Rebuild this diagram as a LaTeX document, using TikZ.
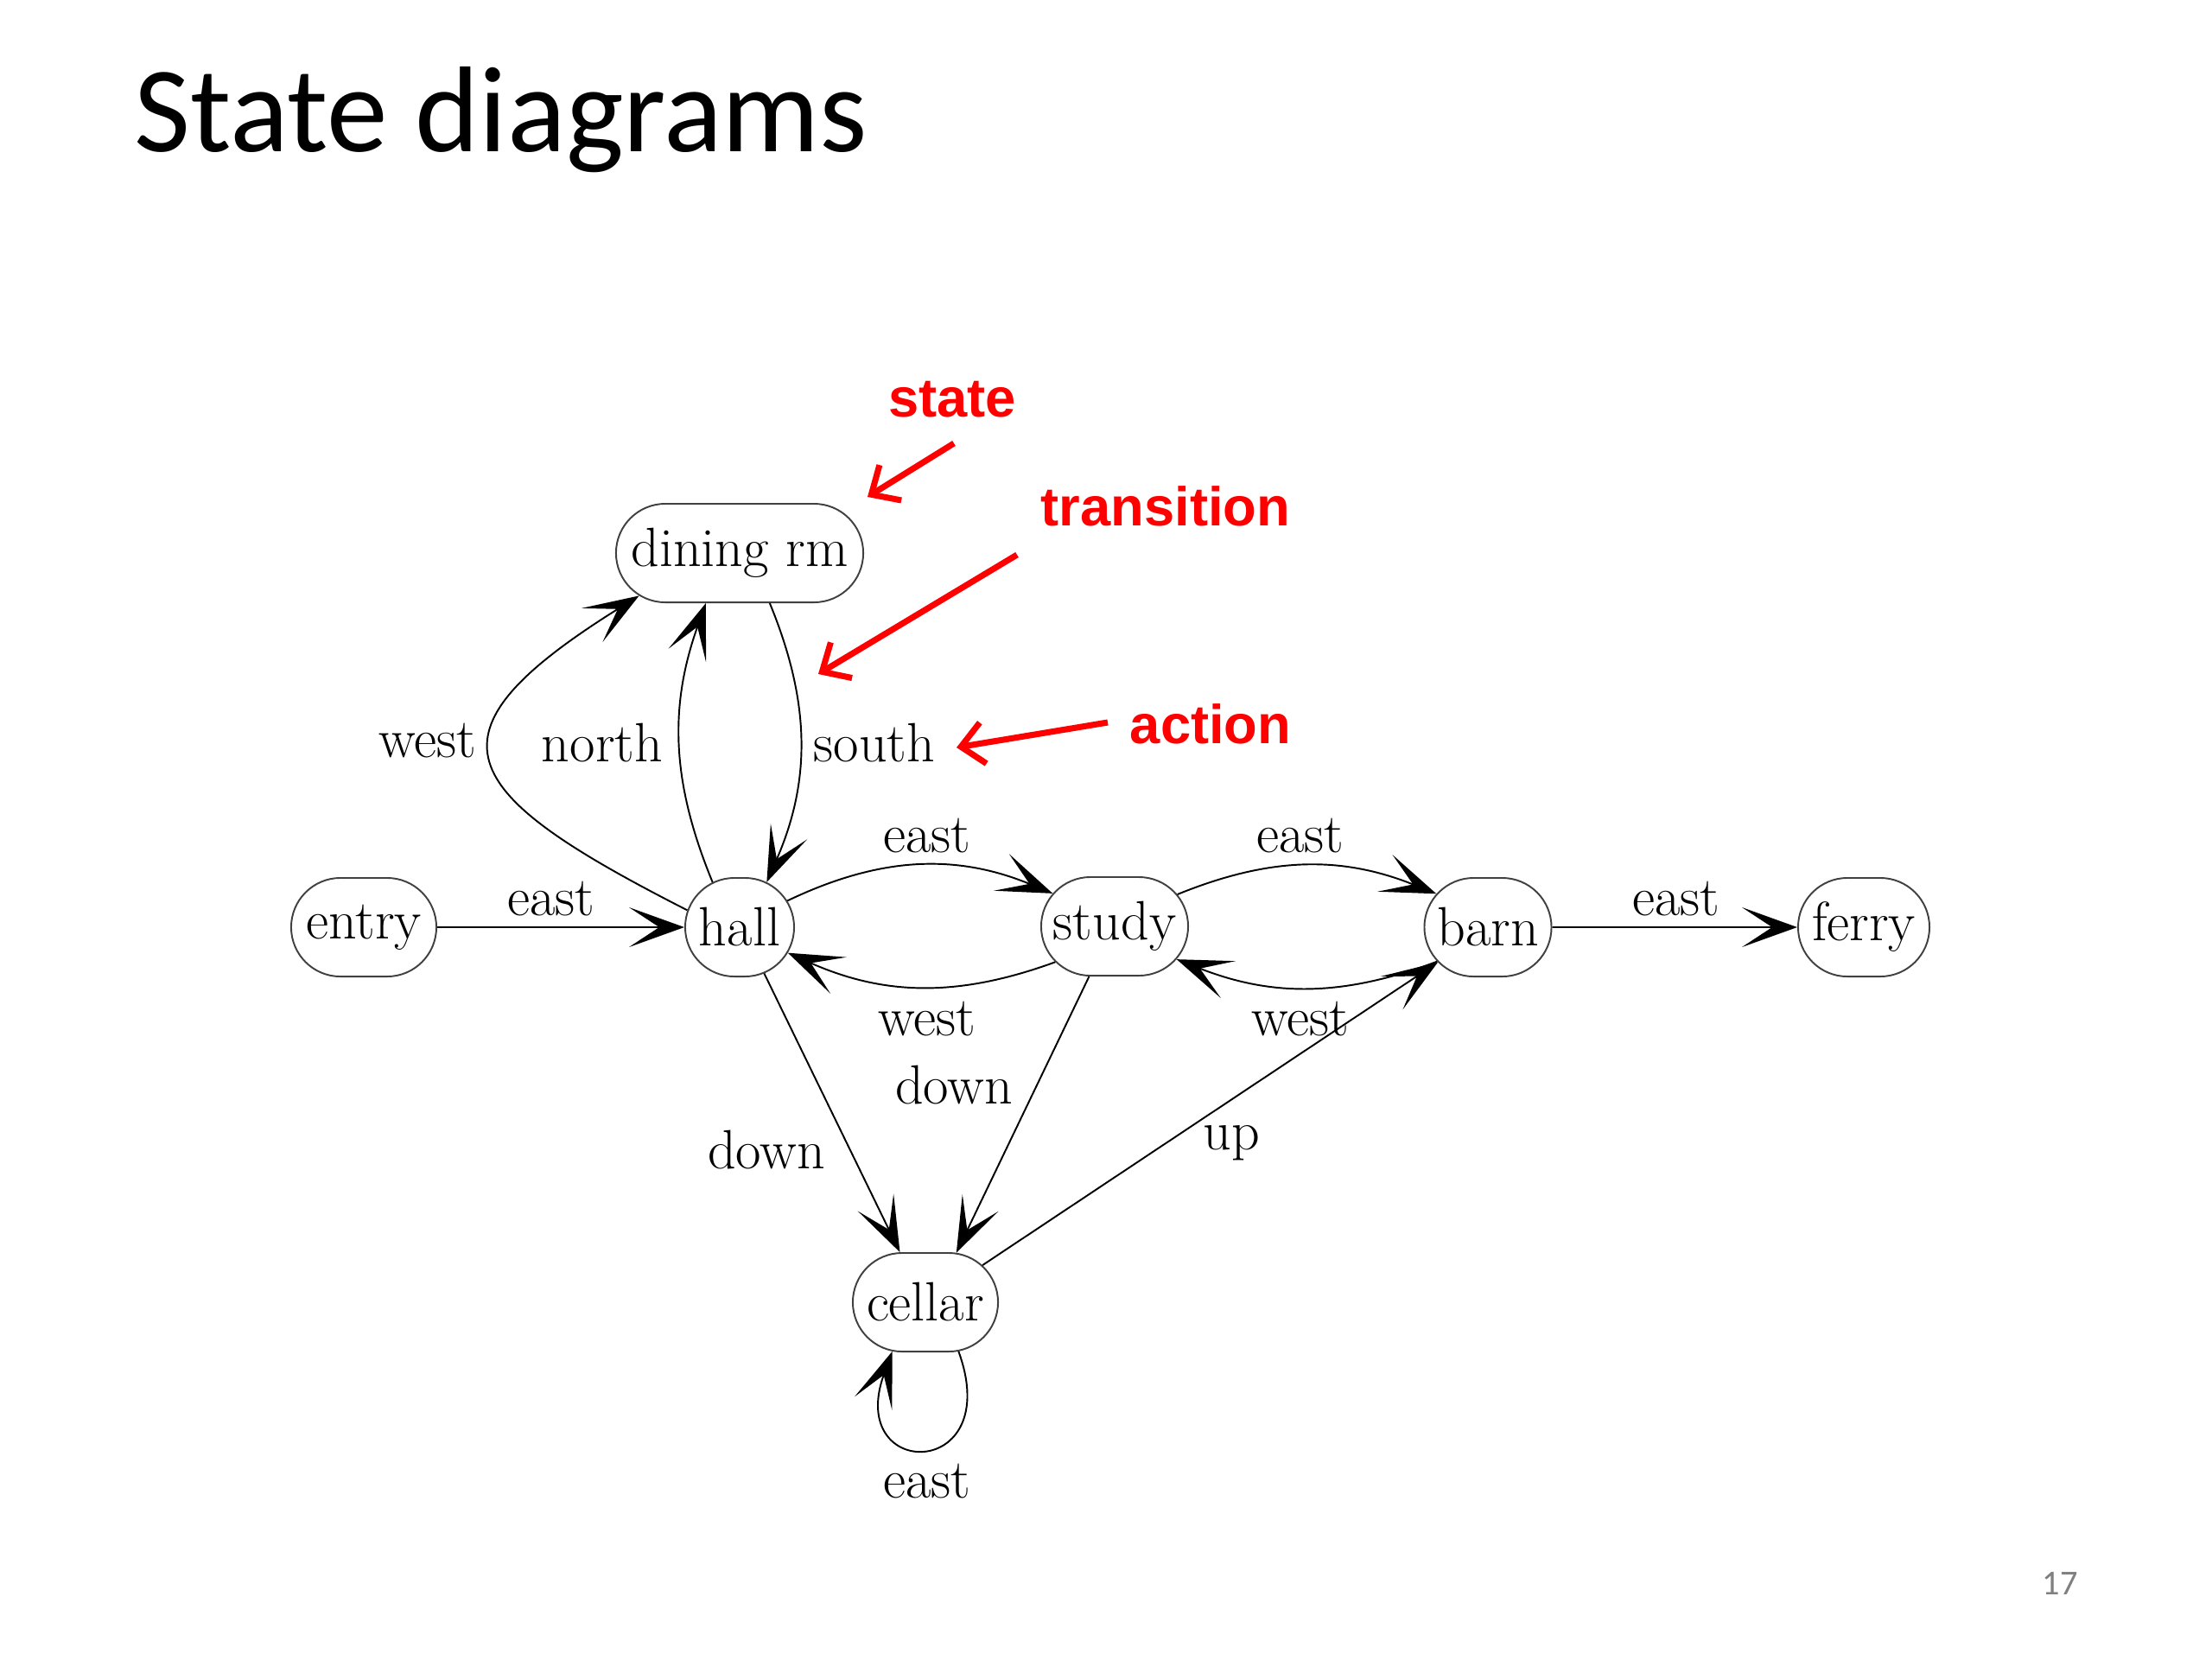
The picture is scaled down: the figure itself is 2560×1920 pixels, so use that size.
\documentclass[tikz,border=0pt]{standalone}
\usepackage{fontspec}
\newfontfamily\titlefont{Carlito}
\newfontfamily\annfont{Liberation Sans}
\usetikzlibrary{arrows.meta,shapes.misc}
\definecolor{annred}{RGB}{255,0,0}
\definecolor{pagegray}{RGB}{128,128,128}
\newcommand{\zw}[1]{\makebox[0pt]{#1}}
\begin{document}
\begin{tikzpicture}[x=0.01cm,y=0.01cm,
  state/.style={rounded rectangle, draw=black!75, line width=0.55pt, minimum height=11.4mm,
    minimum width=#1, inner xsep=0pt, inner ysep=0pt, font=\fontsize{18.2}{22}\selectfont},
  lbl/.style={font=\fontsize{18.2}{22}\selectfont, inner sep=0pt},
  edge/.style={line width=0.55pt, -{Stealth[length=6.4mm,width=4.6mm,inset=3.5mm]}},
  ann/.style={font=\annfont\bfseries\fontsize{18}{22}\selectfont, text=annred, inner sep=0pt},
  annarrow/.style={annred, line width=2pt, -{Straight Barb[length=2.6mm,width=4.8mm]}},
]
\useasboundingbox[fill=white] (0,0) rectangle (2560,-1920);

% title and page number
\node[anchor=base west, inner sep=0pt, font=\titlefont\fontsize{40.2}{44}\selectfont] (title) at (155,-175) {State diagrams};
\node[font=\titlefont\fontsize{11.5}{13}\selectfont, text=pagegray, inner sep=0pt] (pnum) at (2384,-1832) {17};

% states
\node[state=28.6mm] (dining) at (856,-640) {\zw{dining rm}};
\node[state=16.8mm] (entry) at (421,-1073) {\zw{entry}};
\node[state=12.6mm] (hall) at (856,-1073) {\zw{hall}};
\node[state=17mm] (study) at (1290,-1072) {\zw{study}};
\node[state=14.7mm] (barn) at (1722,-1073) {\zw{barn}};
\node[state=15.2mm] (ferry) at (2157,-1073) {\zw{ferry}};
\node[state=16.8mm] (cellar) at (1071,-1507) {\zw{cellar}};

% transitions
\draw[edge] (entry) -- (hall);
\draw[edge] (hall.162) .. controls +(153:304) and +(212:304) .. (dining.203);
\draw[edge] (hall.121) to[bend left=21] (dining.236);
\draw[edge] (dining.301) to[bend left=23] (hall.59);
\draw[edge] (hall.29) to[bend left=24] (study.152);
\draw[edge] (study.211) to[bend left=22] (hall.332);
\draw[edge] (study.27) to[bend left=22] (barn.147);
\draw[edge] (barn.214) to[bend left=21] (study.332);
\draw[edge] (barn) -- (ferry);
\draw[edge] (hall.298) -- (cellar.117);
\draw[edge] (study.243) -- (cellar.58);
\draw[edge] (cellar.33) -- (barn.215);
\draw[edge] (cellar.304) .. controls +(-70:160) and +(-110:160) .. (cellar.236);

% action labels
\node[lbl] (l-eh) at (638,-1040) {east};
\node[lbl] (l-hdw) at (495,-857) {west};
\node[lbl] (l-hdn) at (697,-860) {north};
\node[lbl] (l-dhs) at (1012,-860) {south};
\node[lbl] (l-hse) at (1073,-967) {east};
\node[lbl] (l-shw) at (1073,-1179) {west};
\node[lbl] (l-sbe) at (1505,-967) {east};
\node[lbl] (l-bsw) at (1505,-1179) {west};
\node[lbl] (l-bfe) at (1940,-1040) {east};
\node[lbl] (l-hcd) at (887,-1331) {down};
\node[lbl] (l-scd) at (1104,-1256) {down};
\node[lbl] (l-cbu) at (1425,-1323) {up};
\node[lbl] (l-cce) at (1073,-1714) {east};

% annotations
\node[ann] (annstate) at (1102,-462) {state};
\node[ann] (anntrans) at (1349,-586) {transition};
\node[ann] (annaction) at (1401,-838) {action};
\coordinate (s1) at (1104,-513); \coordinate (s2) at (1004,-575);
\coordinate (t1) at (1177,-642); \coordinate (t2) at (947,-780);
\coordinate (a1) at (1282,-836); \coordinate (a2) at (1107,-865);
\draw[annarrow] (s1) -- (s2);
\draw[annarrow] (t1) -- (t2);
\draw[annarrow] (a1) -- (a2);
\end{tikzpicture}
\end{document}
